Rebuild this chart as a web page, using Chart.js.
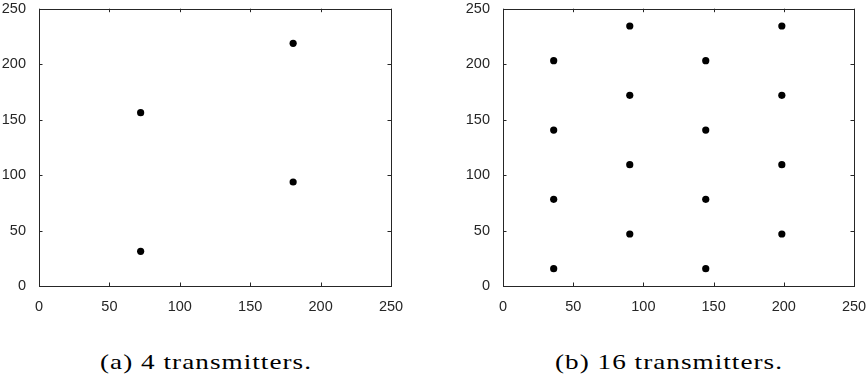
<!DOCTYPE html>
<html>
<head>
<meta charset="utf-8">
<script src="https://cdn.jsdelivr.net/npm/chart.js@4.4.1/dist/chart.umd.min.js"></script>
<style>
  html, body { margin: 0; padding: 0; background: #fff; overflow: hidden; }
  body { width: 867px; height: 380px; position: relative; }
  .plot { position: absolute; top: -5px; width: 420px; height: 316px; }
  .caption {
    position: absolute; top: 352px; font-family: "Liberation Serif", "DejaVu Serif", serif;
    font-size: 21px; line-height: 21px; letter-spacing: 0.8px; color: #000; white-space: nowrap;
    transform-origin: 0 0;
  }
</style>
</head>
<body>
<div class="plot" style="left:0px"><canvas id="chartA"></canvas></div>
<div class="plot" style="left:463px"><canvas id="chartB"></canvas></div>
<div class="caption" id="capA" data-left="100" data-width="212">(a) 4 transmitters.</div>
<div class="caption" id="capB" data-left="555" data-width="228">(b) 16 transmitters.</div>
<script>
  // axis ticks shared by both panels
  const axisTicks = [0, 50, 100, 150, 200, 250];

  // (a) 4 transmitters
  const txA_x = [72.2, 72.2, 180.5, 180.5];
  const txA_y = [31.25, 156.25, 93.75, 218.75];

  // (b) 16 transmitters
  const txB_x = [36.1, 36.1, 36.1, 36.1, 90.3, 90.3, 90.3, 90.3,
                 144.4, 144.4, 144.4, 144.4, 198.6, 198.6, 198.6, 198.6];
  const txB_y = [15.6, 78.1, 140.6, 203.1, 46.9, 109.4, 171.9, 234.4,
                 15.6, 78.1, 140.6, 203.1, 46.9, 109.4, 171.9, 234.4];

  const axisColor = "#262626";

  // MATLAB-like box with inward ticks on all four sides
  const boxPlugin = {
    id: "matlabBox",
    afterDatasetsDraw(chart) {
      const { ctx, chartArea: a, scales } = chart;
      const len = 3.5;
      ctx.save();
      ctx.strokeStyle = axisColor;
      ctx.lineWidth = 1;
      ctx.beginPath();
      axisTicks.forEach((t) => {
        const px = Math.round(scales.x.getPixelForValue(t)) + 0.5;
        const py = Math.round(scales.y.getPixelForValue(t)) + 0.5;
        ctx.moveTo(px, a.bottom); ctx.lineTo(px, a.bottom - len);
        ctx.moveTo(px, a.top); ctx.lineTo(px, a.top + len);
        ctx.moveTo(a.left, py); ctx.lineTo(a.left + len, py);
        ctx.moveTo(a.right, py); ctx.lineTo(a.right - len, py);
      });
      ctx.stroke();
      ctx.strokeRect(Math.round(a.left) + 0.5, Math.round(a.top) + 0.5,
        Math.round(a.right - a.left), Math.round(a.bottom - a.top));
      ctx.restore();
    },
  };

  function makeScatter(id, xs, ys, yWidth) {
    const ctx = document.getElementById(id).getContext("2d");
    const points = xs.map((x, i) => ({ x, y: ys[i] }));
    const tickFont = { family: "'Liberation Sans', Arial, sans-serif", size: 14.5 };
    return new Chart(ctx, {
      type: "scatter",
      data: {
        datasets: [{
          data: points,
          backgroundColor: "#000",
          borderColor: "#000",
          pointRadius: 3.6,
          pointHoverRadius: 3.6,
          borderWidth: 0,
        }],
      },
      options: {
        responsive: true,
        maintainAspectRatio: false,
        animation: false,
        events: [],
        layout: { padding: { top: 7, right: 29, left: 0, bottom: 0 } },
        plugins: { legend: { display: false }, tooltip: { enabled: false } },
        scales: {
          x: {
            type: "linear", min: 0, max: 250,
            afterBuildTicks: (s) => { s.ticks = axisTicks.map((v) => ({ value: v })); },
            afterFit: (s) => { s.height = 25; },
            grid: { display: false },
            border: { display: false },
            ticks: { color: axisColor, font: tickFont, padding: 4, maxRotation: 0 },
          },
          y: {
            type: "linear", min: 0, max: 250,
            afterBuildTicks: (s) => { s.ticks = axisTicks.map((v) => ({ value: v })); },
            afterFit: (s) => { s.width = yWidth; },
            grid: { display: false },
            border: { display: false },
            ticks: { color: axisColor, font: tickFont, padding: 5 },
          },
        },
      },
      plugins: [boxPlugin],
    });
  }

  makeScatter("chartA", txA_x, txA_y, 39);
  makeScatter("chartB", txB_x, txB_y, 40);

  // stretch captions to the width of the original Computer Modern captions
  document.querySelectorAll(".caption").forEach((el) => {
    const w = el.getBoundingClientRect().width;
    el.style.left = el.dataset.left + "px";
    el.style.transform = `scaleX(${Number(el.dataset.width) / w})`;
  });
</script>
</body>
</html>
